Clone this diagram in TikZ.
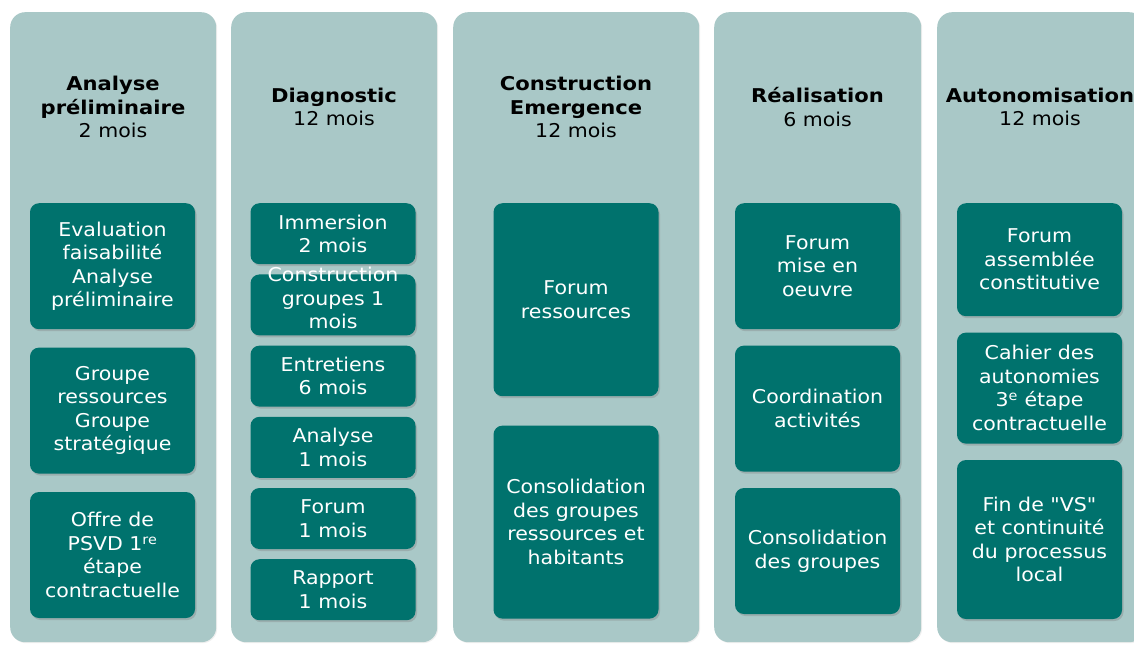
\documentclass[tikz,border=0pt]{standalone}
\usepackage{fontspec}
\setmainfont{DejaVu Sans}[Ligatures=TeXOff, FakeStretch=1.08, BoldFeatures={FakeStretch=1.11}]
\usetikzlibrary{positioning,shadows}
\definecolor{phasebg}{HTML}{A9C8C7}
\definecolor{taskfill}{HTML}{00726D}

\begin{document}
\begin{tikzpicture}[
  x=1pt, y=-1pt,
  font=\fontsize{19}{23.5}\selectfont,
  phase/.style={fill=phasebg, rounded corners=15pt, anchor=north west, inner sep=0pt, minimum height=630pt,
    drop shadow={shadow xshift=1pt, shadow yshift=-1pt, opacity=.12}},
  head/.style={align=center, text=black, inner sep=0pt},
  task/.style={fill=taskfill, text=white, rounded corners=9pt, align=center, inner sep=2pt, minimum width=165pt,
    drop shadow={shadow xshift=1.5pt, shadow yshift=-2pt, opacity=.35}}
]
\clip (0,0) rectangle (1134,645);
\fill[white] (0,0) rectangle (1134,645);

% phase columns
\node[phase, minimum width=206pt] (p1) at (10,12) {};
\node[phase, minimum width=206pt] (p2) at (231,12) {};
\node[phase, minimum width=246pt] (p3) at (453,12) {};
\node[phase, minimum width=207pt] (p4) at (714,12) {};
\node[phase, minimum width=207pt] (p5) at (937,12) {};

% headers
\node[head] (h1) at (113,107) {\textbf{Analyse}\\\textbf{préliminaire}\\2 mois};
\node[head] (h2) at (334,107) {\textbf{Diagnostic}\\12 mois};
\node[head] (h3) at (576,107) {\textbf{Construction}\\\textbf{Emergence}\\12 mois};
\node[head] (h4) at (817.5,107) {\textbf{Réalisation}\\6 mois};
\node[head] (h5) at (1040,107) {\textbf{Autonomisation}\\12 mois};

% Analyse preliminaire
\node[task, minimum height=126pt, anchor=north] (a1) at (112.5,203) {Evaluation\\faisabilité\\Analyse\\préliminaire};
\node[task, minimum height=126pt, below=18pt of a1] (a2) {Groupe\\ressources\\Groupe\\stratégique};
\node[task, minimum height=126pt, below=18pt of a2] (a3) {Offre de\\PSVD 1\textsuperscript{re}\\étape\\contractuelle};

% Diagnostic
\node[task, minimum height=61pt, anchor=north] (d1) at (333,203) {Immersion\\2 mois};
\node[task, minimum height=61pt, below=9.8pt of d1] (d2) {\smash{\begin{tabular}{@{}c@{}}Construction\\groupes 1\\mois\end{tabular}}};
\node[task, minimum height=61pt, below=9.8pt of d2] (d3) {Entretiens\\6 mois};
\node[task, minimum height=61pt, below=9.8pt of d3] (d4) {Analyse\\1 mois};
\node[task, minimum height=61pt, below=9.8pt of d4] (d5) {Forum\\1 mois};
\node[task, minimum height=61pt, below=9.8pt of d5] (d6) {Rapport\\1 mois};

% Construction Emergence
\node[task, minimum height=193pt, anchor=north] (c1) at (576,203) {Forum\\ressources};
\node[task, minimum height=193pt, below=29pt of c1] (c2) {Consolidation\\des groupes\\ressources et\\habitants};

% Realisation
\node[task, minimum height=126pt, anchor=north] (r1) at (817.5,203) {Forum\\mise en\\oeuvre};
\node[task, minimum height=126pt, below=16pt of r1] (r2) {Coordination\\activités};
\node[task, minimum height=126pt, below=16pt of r2] (r3) {Consolidation\\des groupes};

% Autonomisation
\node[task, minimum height=113pt, anchor=north] (u1) at (1039.5,203) {Forum\\assemblée\\constitutive};
\node[task, minimum height=111pt, below=16pt of u1] (u2) {Cahier des\\autonomies\\3\textsuperscript{e} étape\\contractuelle};
\node[task, minimum height=159pt, below=16pt of u2] (u3) {Fin de "VS"\\et continuité\\du processus\\local};
\end{tikzpicture}
\end{document}
